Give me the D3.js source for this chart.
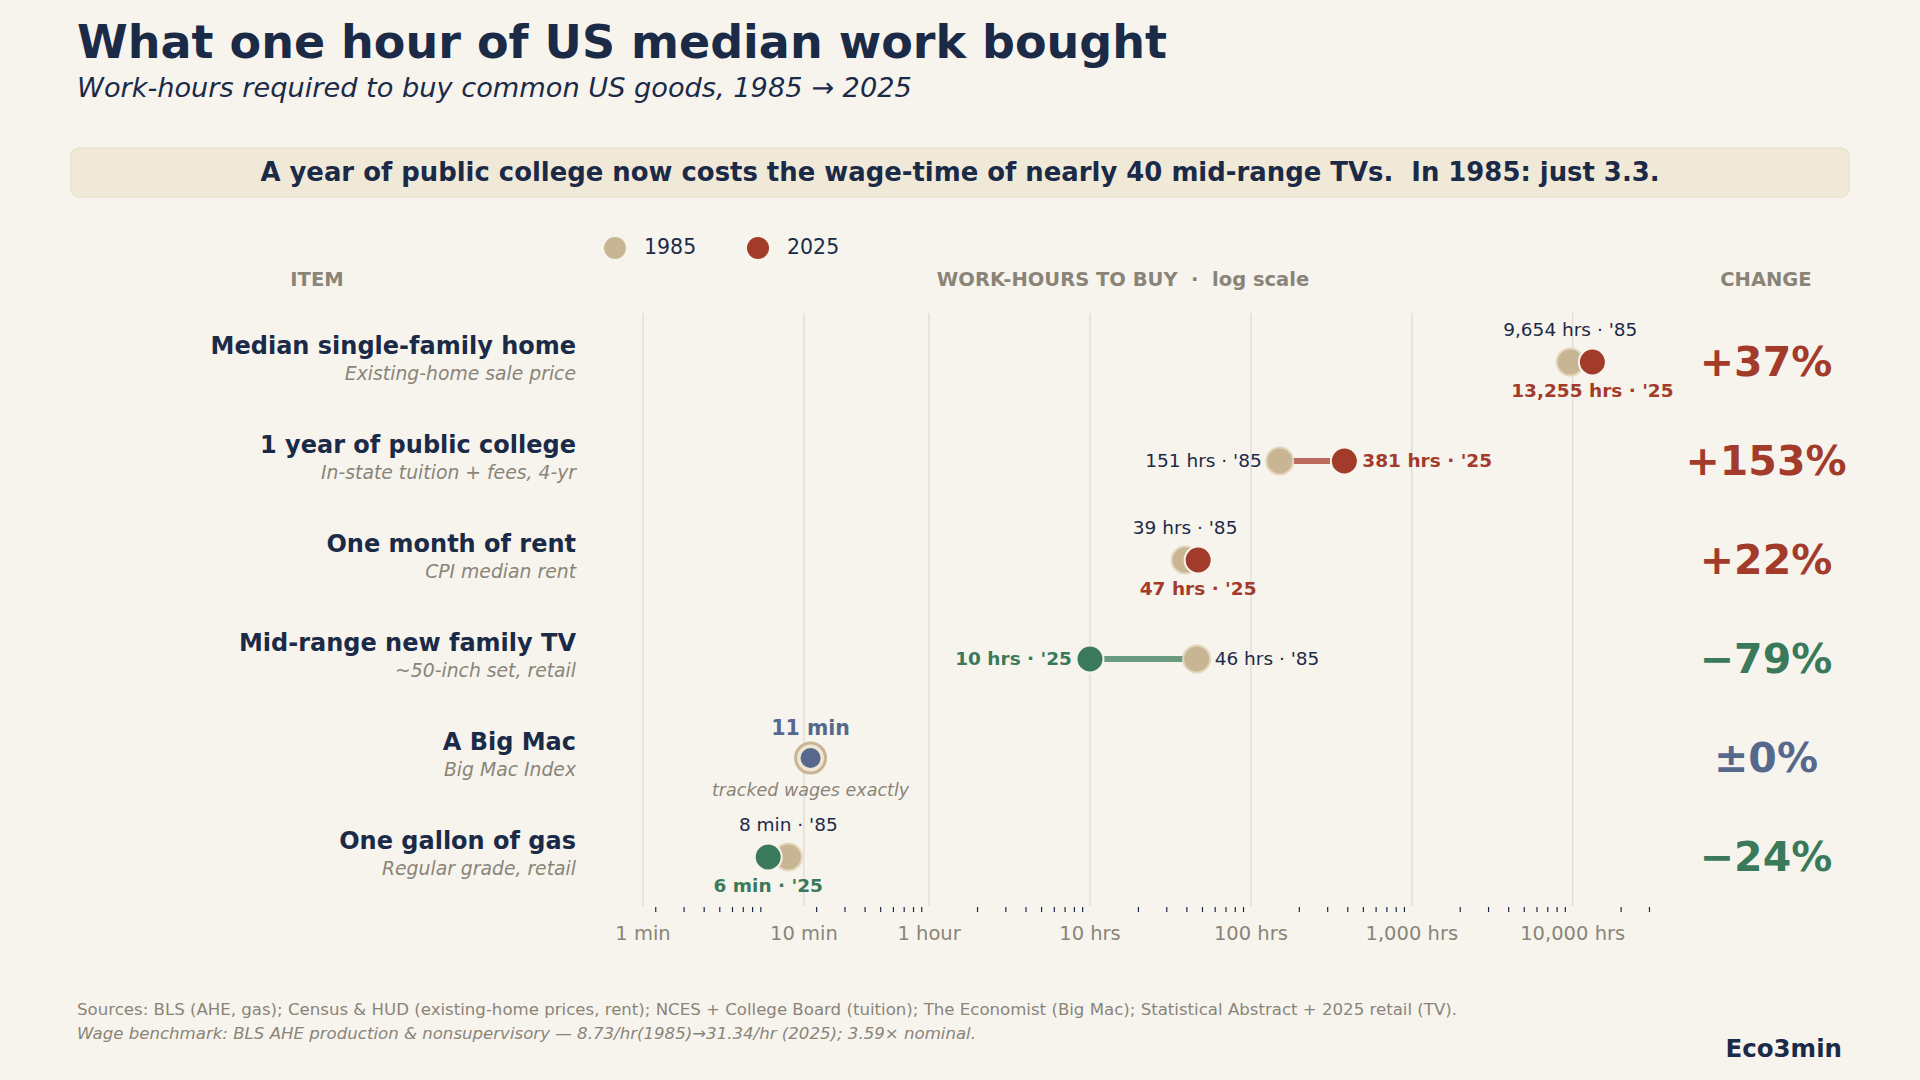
<!doctype html>
<html>
<head>
<meta charset="utf-8">
<script src="https://d3js.org/d3.v7.min.js"></script>
<style>
  body { margin: 0; background: #f7f4ee; }
  svg text { font-family: "DejaVu Sans", sans-serif; white-space: pre; }
</style>
</head>
<body>
<svg width="1920" height="1080" id="chart"></svg>
<script>
// data (work-hours)
var items = ["Median single-family home", "1 year of public college", "One month of rent",
             "Mid-range new family TV", "A Big Mac", "One gallon of gas"];
var notes = ["Existing-home sale price", "In-state tuition + fees, 4-yr", "CPI median rent",
             "~50-inch set, retail", "Big Mac Index", "Regular grade, retail"];
var hours1985 = [9654, 151, 39, 46, 11 / 60, 8 / 60];
var hours2025 = [13255, 381, 47, 10, 11 / 60, 6 / 60];
var label1985 = ["9,654 hrs · '85", "151 hrs · '85", "39 hrs · '85", "46 hrs · '85", "11 min", "8 min · '85"];
var label2025 = ["13,255 hrs · '25", "381 hrs · '25", "47 hrs · '25", "10 hrs · '25", "tracked wages exactly", "6 min · '25"];
var changes = ["+37%", "+153%", "+22%", "\u221279%", "\u00b10%", "\u221224%"];
var majorTicks = [1 / 60, 1 / 6, 1, 10, 100, 1000, 10000];
var majorLabels = ["1 min", "10 min", "1 hour", "10 hrs", "100 hrs", "1,000 hrs", "10,000 hrs"];

var BG = "#f7f4ee", NAVY = "#1b2a47", GRAY = "#8a8478", TAN = "#c8b594",
    RED = "#a33b2b", GREEN = "#3a7a5a", BLUE = "#56698c";

var svg = d3.select("#chart");
var x = d3.scaleLog().domain([1 / 60, 10]).range([643, 1090]);
var y = d3.scalePoint().domain(items).range([362, 857]);

// title
svg.append("text").attr("x", 77).attr("y", 58).attr("fill", NAVY)
  .style("font-size", "46px").style("font-weight", "bold").text("What one hour of US median work bought");
svg.append("text").attr("x", 77).attr("y", 97).attr("fill", NAVY)
  .style("font-size", "27.2px").style("font-style", "italic")
  .text("Work-hours required to buy common US goods, 1985 \u2192 2025");

// banner
svg.append("rect").attr("x", 71).attr("y", 148).attr("width", 1778).attr("height", 49)
  .attr("rx", 8).attr("fill", "#f1e9d8").attr("stroke", "#e6dcc6");
svg.append("text").attr("x", 960).attr("y", 181).attr("text-anchor", "middle").attr("fill", NAVY)
  .style("font-size", "25.9px").style("font-weight", "bold")
  .text("A year of public college now costs the wage-time of nearly 40 mid-range TVs.  In 1985: just 3.3.");

// legend
[["1985", TAN, 615], ["2025", RED, 758]].forEach(function (l) {
  svg.append("circle").attr("cx", l[2]).attr("cy", 248).attr("r", 11).attr("fill", l[1]);
  svg.append("text").attr("x", l[2] + 29).attr("y", 254).attr("fill", NAVY)
    .style("font-size", "20.5px").text(l[0]);
});

// headers
[["ITEM", 317], ["WORK-HOURS TO BUY  \u00b7  log scale", 1123], ["CHANGE", 1766]].forEach(function (h) {
  svg.append("text").attr("x", h[1]).attr("y", 286).attr("text-anchor", "middle").attr("fill", GRAY)
    .style("font-size", "19.5px").style("font-weight", "bold").text(h[0]);
});

// grid
svg.append("g").selectAll("line").data(majorTicks).join("line")
  .attr("x1", d => x(d)).attr("x2", d => x(d)).attr("y1", 313).attr("y2", 906)
  .attr("stroke", "#e4dfd3").attr("stroke-width", 1.5);

// minor ticks
var minor = d3.scaleLog().domain([0.02, 30000]).ticks()
  .filter(d => d >= 0.019 && Math.abs(Math.log10(d) - Math.round(Math.log10(d))) > 1e-6);
svg.append("g").selectAll("line").data(minor).join("line")
  .attr("x1", d => x(d)).attr("x2", d => x(d)).attr("y1", 907).attr("y2", 912)
  .attr("stroke", NAVY).attr("stroke-width", 1.2);
svg.append("g").selectAll("text").data(majorTicks).join("text")
  .attr("x", d => x(d)).attr("y", 940).attr("text-anchor", "middle").attr("fill", GRAY)
  .style("font-size", "19.5px").text((d, i) => majorLabels[i]);

// rows
items.forEach(function (name, i) {
  var cy = y(name), a = hours1985[i], b = hours2025[i];
  var up = b > a, same = a === b;
  var col = same ? BLUE : (up ? RED : GREEN);
  var lineCol = up ? "#bb6b5c" : "#6a9c82";

  svg.append("text").attr("x", 576).attr("y", cy - 8).attr("text-anchor", "end").attr("fill", NAVY)
    .style("font-size", "24px").style("font-weight", "bold").text(name);
  svg.append("text").attr("x", 576).attr("y", cy + 18).attr("text-anchor", "end").attr("fill", GRAY)
    .style("font-size", "18.8px").style("font-style", "italic").text(notes[i]);

  svg.append("text").attr("x", 1766).attr("y", cy + 14).attr("text-anchor", "middle").attr("fill", col)
    .style("font-size", "41px").style("font-weight", "bold").text(changes[i]);

  if (same) {
    svg.append("circle").attr("cx", x(a)).attr("cy", cy).attr("r", 15)
      .attr("fill", "#efe6d4").attr("stroke", TAN).attr("stroke-width", 3);
    svg.append("circle").attr("cx", x(b)).attr("cy", cy).attr("r", 10).attr("fill", BLUE);
    svg.append("text").attr("x", x(a)).attr("y", cy - 23).attr("text-anchor", "middle").attr("fill", BLUE)
      .style("font-size", "20.5px").style("font-weight", "bold").text(label1985[i]);
    svg.append("text").attr("x", x(a)).attr("y", cy + 38).attr("text-anchor", "middle").attr("fill", GRAY)
      .style("font-size", "17.5px").style("font-style", "italic").text(label2025[i]);
    return;
  }

  var wide = Math.abs(x(b) - x(a)) > 40;
  if (wide) {
    svg.append("line").attr("x1", x(a)).attr("x2", x(b)).attr("y1", cy).attr("y2", cy)
      .attr("stroke", lineCol).attr("stroke-width", 6);
  }
  svg.append("circle").attr("cx", x(a)).attr("cy", cy).attr("r", 13.5)
    .attr("fill", TAN).attr("stroke", "#e3d6bd").attr("stroke-width", 2);
  svg.append("circle").attr("cx", x(b)).attr("cy", cy).attr("r", 13.5)
    .attr("fill", col).attr("stroke", BG).attr("stroke-width", 2);

  if (wide) {
    var lo = Math.min(a, b), hi = Math.max(a, b);
    var loIs85 = lo === a;
    svg.append("text").attr("x", x(lo) - 18).attr("y", cy + 6).attr("text-anchor", "end")
      .attr("fill", loIs85 ? NAVY : col).style("font-size", "18.5px")
      .style("font-weight", loIs85 ? "normal" : "bold").text(loIs85 ? label1985[i] : label2025[i]);
    svg.append("text").attr("x", x(hi) + 18).attr("y", cy + 6).attr("text-anchor", "start")
      .attr("fill", loIs85 ? col : NAVY).style("font-size", "18.5px")
      .style("font-weight", loIs85 ? "bold" : "normal").text(loIs85 ? label2025[i] : label1985[i]);
  } else {
    svg.append("text").attr("x", x(a)).attr("y", cy - 26).attr("text-anchor", "middle").attr("fill", NAVY)
      .style("font-size", "18.5px").text(label1985[i]);
    svg.append("text").attr("x", x(b)).attr("y", cy + 35).attr("text-anchor", "middle").attr("fill", col)
      .style("font-size", "18.5px").style("font-weight", "bold").text(label2025[i]);
  }
});

// footer
svg.append("text").attr("x", 77).attr("y", 1015).attr("fill", GRAY).style("font-size", "16.6px")
  .text("Sources: BLS (AHE, gas); Census & HUD (existing-home prices, rent); NCES + College Board (tuition); The Economist (Big Mac); Statistical Abstract + 2025 retail (TV).");
svg.append("text").attr("x", 77).attr("y", 1039).attr("fill", GRAY).style("font-size", "16.6px")
  .style("font-style", "italic")
  .text("Wage benchmark: BLS AHE production & nonsupervisory \u2014 8.73/hr(1985)\u219231.34/hr (2025); 3.59\u00d7 nominal.");
svg.append("text").attr("x", 1842).attr("y", 1057).attr("text-anchor", "end").attr("fill", NAVY)
  .style("font-size", "24.5px").style("font-weight", "bold").text("Eco3min");
</script>
</body>
</html>
